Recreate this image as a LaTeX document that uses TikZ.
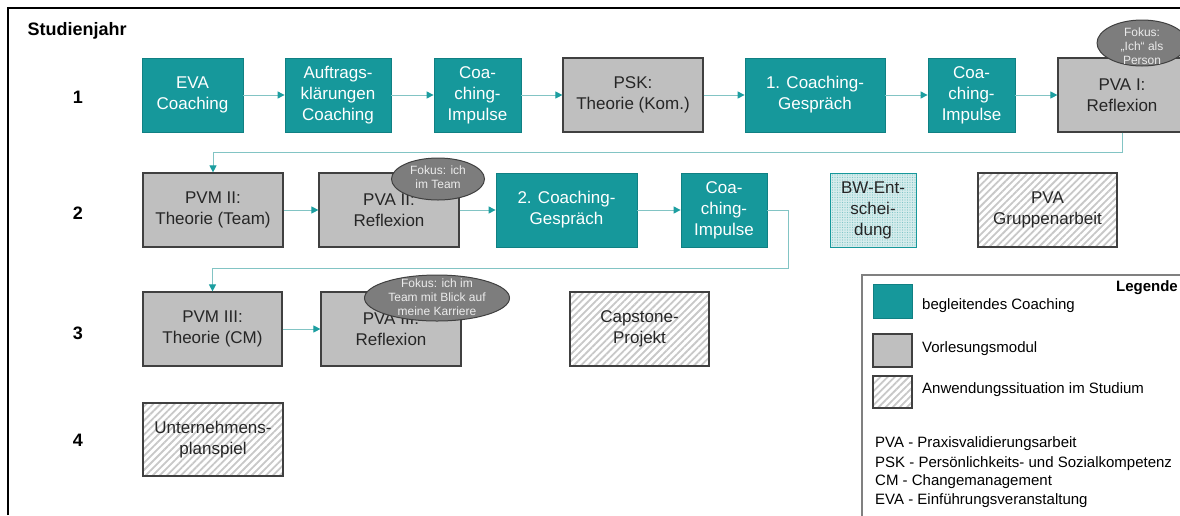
\documentclass[tikz,border=0pt]{standalone}
\usepackage{fontspec}
\setmainfont{Liberation Sans}
\usetikzlibrary{shapes.geometric}
\usetikzlibrary{arrows.meta}
\usetikzlibrary{patterns.meta}
\definecolor{coachteal}{RGB}{22,152,155}
\definecolor{coachedge}{RGB}{16,128,131}
\definecolor{modgray}{RGB}{191,191,191}
\definecolor{modedge}{RGB}{64,64,64}
\definecolor{linkteal}{RGB}{130,196,196}
\definecolor{tipteal}{RGB}{28,158,160}
\definecolor{fokusgray}{RGB}{125,125,125}
\definecolor{hatchgray}{RGB}{200,200,200}
\definecolor{bwfill}{RGB}{214,236,236}
\definecolor{legendedge}{RGB}{128,128,128}
\tikzset{
  coaching/.style={draw=coachedge,fill=coachteal,text=white,line width=0.8pt,minimum height=74pt,inner sep=0pt,align=center,font=\fontsize{17}{21}\selectfont},
  modul/.style={draw=modedge,fill=modgray,text=black!85,line width=1.2pt,minimum height=74pt,inner sep=0pt,align=center,font=\fontsize{17}{21}\selectfont},
  anwendung/.style={draw=modedge,preaction={fill=white},pattern={Lines[angle=45,distance=5pt,line width=1.8pt]},pattern color=hatchgray,text=black!85,line width=1.2pt,minimum height=74pt,inner sep=0pt,align=center,font=\fontsize{17}{21}\selectfont},
  entscheid/.style={draw=coachteal,preaction={fill=bwfill},pattern={Dots[distance=2.5pt,radius=0.6pt]},pattern color=coachteal!55,text=black!85,line width=1pt,minimum height=74pt,inner sep=0pt,align=center,font=\fontsize{17}{21}\selectfont},
  fokus/.style={ellipse,draw=modedge,fill=fokusgray,line width=1pt,inner sep=0pt},
  fokustext/.style={text=white!92!black,align=center,inner sep=0pt,font=\fontsize{12}{14}\selectfont},
  year/.style={font=\fontsize{18}{21}\selectfont\bfseries},
  link/.style={draw=linkteal,line width=1pt,-{Triangle[length=7pt,width=7pt,color=tipteal]}},
  legtext/.style={anchor=west,inner sep=0pt,font=\fontsize{15}{17}\selectfont}
}
\begin{document}
\begin{tikzpicture}[x=1pt,y=-1pt]
\useasboundingbox (0,0) rectangle (1180,515);
\draw[line width=2.5pt] (8,515) -- (8,8) -- (1180,8);
\node[year,anchor=west] (title) at (24,31) {Studienjahr};
\node[year] (year1) at (78,97) {1};
\node[year] (year2) at (78,213) {2};
\node[year] (year3) at (78,333) {3};
\node[year] (year4) at (78,440) {4};

% year 1
\node[coaching,minimum width=101pt] (eva) at (192.5,95) {EVA\\Coaching};
\node[coaching,minimum width=106pt] (auftrag) at (338,95) {Auftrags-\\klärungen\\Coaching};
\node[coaching,minimum width=87pt] (impulsA) at (477.5,95) {Coa-\\ching-\\Impulse};
\node[modul,minimum width=140pt] (psk) at (633,95) {PSK:\\Theorie (Kom.)};
\node[coaching,minimum width=140pt] (gespraechA) at (815,95) {1. Coaching-\\Gespräch};
\node[coaching,minimum width=87pt] (impulsB) at (971.5,95) {Coa-\\ching-\\Impulse};
\node[modul,minimum width=128pt] (pvaA) at (1122,95) {PVA I:\\Reflexion};

% year 2
\node[modul,minimum width=140pt] (pvmB) at (213,210) {PVM II:\\Theorie (Team)};
\node[modul,minimum width=140pt] (pvaB) at (389,210) {PVA II:\\Reflexion};
\node[coaching,minimum width=141pt] (gespraechB) at (566.5,210) {2. Coaching-\\Gespräch};
\node[coaching,minimum width=86pt] (impulsC) at (724,210) {Coa-\\ching-\\Impulse};
\node[entscheid,minimum width=86pt] (bw) at (873,210) {BW-Ent-\\schei-\\dung};
\node[anwendung,minimum width=139pt] (gruppe) at (1047.5,210) {PVA\\Gruppenarbeit};

% year 3
\node[modul,minimum width=139pt] (pvmC) at (212.5,329) {PVM III:\\Theorie (CM)};
\node[modul,minimum width=140pt] (pvaC) at (391,329) {PVA III:\\Reflexion};
\node[anwendung,minimum width=139pt] (capstone) at (639.5,329) {Capstone-\\Projekt};

% year 4
\node[anwendung,minimum width=140pt,minimum height=73pt] (planspiel) at (213,439.5) {Unternehmens-\\planspiel};

% flow
\draw[link] (eva) -- (auftrag);
\draw[link] (auftrag) -- (impulsA);
\draw[link] (impulsA) -- (psk);
\draw[link] (psk) -- (gespraechA);
\draw[link] (gespraechA) -- (impulsB);
\draw[link] (impulsB) -- (pvaA);
\draw[link] (pvaA.south) -- ++(0,20) -| (pvmB.north);
\draw[link] (pvmB) -- (pvaB);
\draw[link] (pvaB) -- (gespraechB);
\draw[link] (gespraechB) -- (impulsC);
\draw[link] (impulsC.east) -- ++(21,0) -- ++(0,58) -| (pvmC.north);
\draw[link] (pvmC) -- (pvaC);

% fokus bubbles
\node[fokus,minimum width=90pt,minimum height=46pt] (fokusA) at (1142,43) {};
\node[fokustext] (fokusAtext) at (1142,46) {Fokus:\\„Ich“ als\\Person};
\node[fokus,minimum width=93pt,minimum height=42pt] (fokusB) at (438,179) {};
\node[fokustext] (fokusBtext) at (438,177) {Fokus: ich\\im Team};
\node[fokus,minimum width=145pt,minimum height=46pt] (fokusC) at (437,298) {};
\node[fokustext] (fokusCtext) at (437,297) {Fokus: ich im\\Team mit Blick auf\\meine Karriere};

% legend
\draw[draw=legendedge,line width=1.5pt,fill=white] (862,275) rectangle (1200,530);
\node[anchor=east,inner sep=0pt,font=\fontsize{15}{17}\selectfont\bfseries] (legende) at (1178,288) {Legende};
\node[coaching,minimum width=39pt,minimum height=34pt] (keyA) at (892.5,301) {};
\node[legtext] (keyAtext) at (922,306) {begleitendes Coaching};
\node[modul,minimum width=39pt,minimum height=33pt] (keyB) at (892.5,350.5) {};
\node[legtext] (keyBtext) at (922,349) {Vorlesungsmodul};
\node[anwendung,minimum width=39pt,minimum height=32pt] (keyC) at (892.5,392) {};
\node[legtext] (keyCtext) at (922,390) {Anwendungssituation im Studium};
\node[legtext] (abbrA) at (875,444) {PVA - Praxisvalidierungsarbeit};
\node[legtext] (abbrB) at (875,464) {PSK - Persönlichkeits- und Sozialkompetenz};
\node[legtext] (abbrC) at (875,482) {CM - Changemanagement};
\node[legtext] (abbrD) at (875,501) {EVA - Einführungsveranstaltung};
\end{tikzpicture}
\end{document}
